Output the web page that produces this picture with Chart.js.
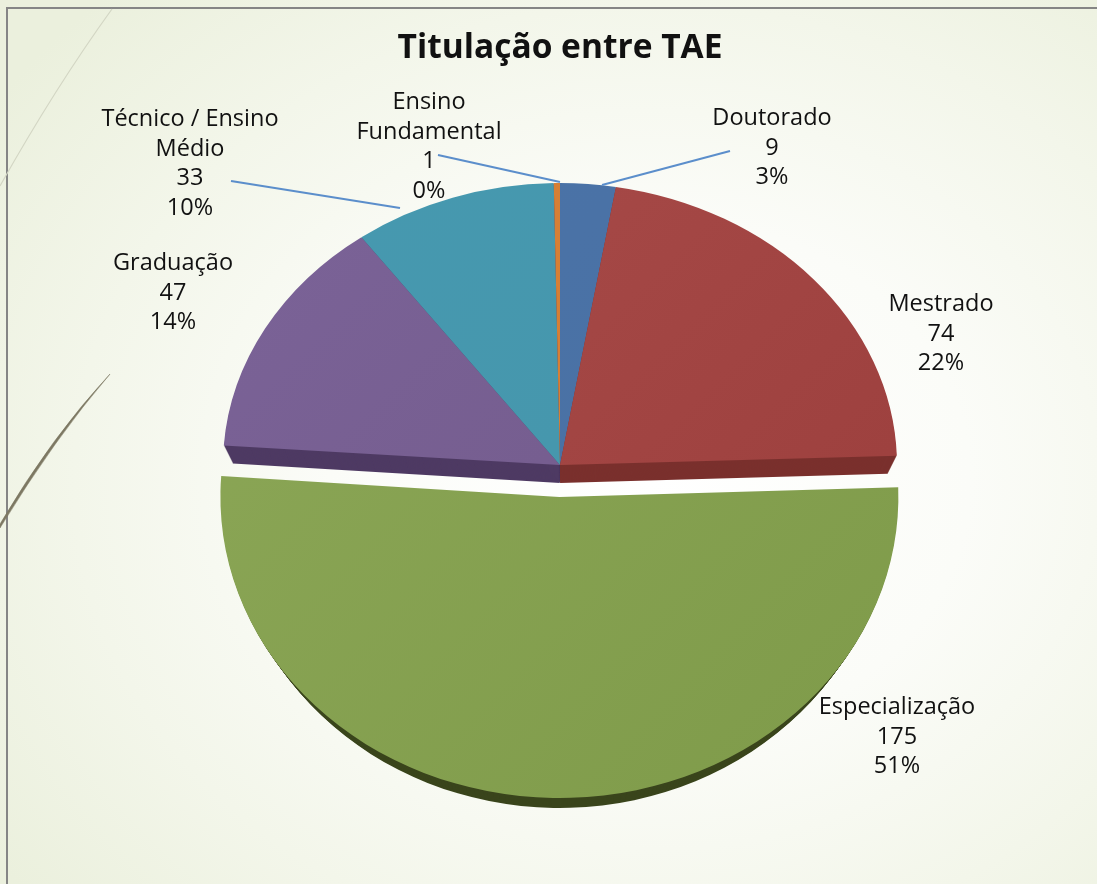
<!DOCTYPE html>
<html>
<head>
<meta charset="utf-8">
<title>Titulação entre TAE</title>
<script src="https://cdn.jsdelivr.net/npm/chart.js@4/dist/chart.umd.js"></script>
<style>
  html, body { margin: 0; padding: 0; width: 1097px; height: 884px; overflow: hidden; }
  body { position: relative; background: radial-gradient(ellipse 800px 660px at 650px 480px, #ffffff 0%, #fbfcf8 40%, #f3f6ea 72%, #ebf0dd 100%); }
  #frame { position: absolute; left: 6px; top: 7px; width: 1091px; height: 877px; border-left: 2px solid #858585; border-top: 2px solid #858585; box-sizing: border-box; }
  #decor { position: absolute; left: 0; top: 0; }
  #myChart { position: absolute; left: 0; top: 0; }
</style>
</head>
<body>
<div id="frame"></div>
<svg id="decor" width="1097" height="884">
  <path d="M112 9 Q 55 88 0 186" fill="none" stroke="#d3d6c4" stroke-width="1.2"/>
  <path d="M110 374 Q 52 436 0 524 L 0 528 Q 55 438 110 374 Z" fill="#7d7863" stroke="#7d7863" stroke-width="0.5"/>
</svg>
<canvas id="myChart" width="1097" height="884"></canvas>
<script>
const categories = ["Doutorado", "Mestrado", "Especialização", "Graduação", "Técnico / Ensino Médio", "Ensino Fundamental"];
const values = [9, 74, 175, 47, 33, 1];
const percents = ["3%", "22%", "51%", "14%", "10%", "0%"];
const labelLines = [["Doutorado"], ["Mestrado"], ["Especialização"], ["Graduação"], ["Técnico / Ensino", "Médio"], ["Ensino", "Fundamental"]];
const sliceColors = [["#4a73a8", "#4a70a2"], ["#a94c4a", "#9b3e3c"], ["#8ca757", "#7f9b4a"], ["#7b6398", "#715988"], ["#4699b0", "#4695aa"], ["#d67f35", "#d67f35"]];
// the thin slices at the back show the wall of their neighbour at the centre
const sideColors = ["#7a302d", "#7a302d", "#3a451c", "#4e3a63", "#4e3a63", "#4e3a63"];

// where the labels sit on the slide (centre x, first line y)
const labelAnchors = [[772, 125], [941, 311], [897, 714], [173, 270], [190, 126], [429, 109]];
const leaders = [
  [602, 185, 730, 151],
  [231, 181, 400, 208],
  [438, 155, 560, 182],
];

const pie = { x: 560, y: 465, rx: 337, ry: 282, depth: 18, shrink: 9, shiftX: 0, shiftY: 0 };
const exploded = { x: 560, y: 465, rx: 339, ry: 301, depth: 10, shrink: 9, shiftX: -0.6, shiftY: 32 };
const explodedIndex = 2;

function place(ctx, arc, i, down, inset) {
  const s = i === explodedIndex ? exploded : pie;
  ctx.translate(s.x + s.shiftX, s.y + s.shiftY + down);
  ctx.scale((s.rx - inset) / arc.outerRadius, s.ry / arc.outerRadius);
  ctx.translate(-arc.x, -arc.y);
}

const tiltedPie = {
  id: "tiltedPie",
  beforeDatasetsDraw(chart) {
    const ctx = chart.ctx;
    const arcs = chart.getDatasetMeta(0).data;
    // side walls first, the top faces go over them
    arcs.forEach((arc, i) => {
      const s = i === explodedIndex ? exploded : pie;
      const top = arc.options;
      arc.options = Object.assign({}, top, { backgroundColor: sideColors[i] });
      for (let k = s.depth; k > 0; k--) {
        ctx.save();
        place(ctx, arc, i, k, s.shrink * k / s.depth);
        arc.draw(ctx);
        ctx.restore();
      }
      arc.options = top;
    });
    arcs.forEach((arc, i) => {
      ctx.save();
      place(ctx, arc, i, 0, 0);
      arc.draw(ctx);
      ctx.restore();
    });
    return false;
  },
  afterDraw(chart) {
    const ctx = chart.ctx;
    ctx.save();
    ctx.strokeStyle = "#5b8ecb";
    ctx.lineWidth = 2;
    leaders.forEach(l => {
      ctx.beginPath();
      ctx.moveTo(l[0], l[1]);
      ctx.lineTo(l[2], l[3]);
      ctx.stroke();
    });
    ctx.fillStyle = "#111";
    ctx.font = '23.5px "Open Sans"';
    ctx.textAlign = "center";
    ctx.textBaseline = "alphabetic";
    categories.forEach((c, i) => {
      const lines = labelLines[i].concat([String(values[i]), percents[i]]);
      lines.forEach((t, n) => ctx.fillText(t, labelAnchors[i][0], labelAnchors[i][1] + n * 29.5));
    });
    ctx.restore();
  },
};

const canvas = document.getElementById("myChart");
const g = canvas.getContext("2d");
const fills = sliceColors.map(pair => {
  const grad = g.createLinearGradient(150, 100, 970, 800);
  grad.addColorStop(0, pair[0]);
  grad.addColorStop(1, pair[1]);
  return grad;
});

new Chart(canvas, {
  type: "pie",
  data: {
    labels: categories,
    datasets: [{
      data: values,
      backgroundColor: fills,
      borderWidth: 0,
    }],
  },
  options: {
    responsive: false,
    animation: false,
    events: [],
    layout: { padding: { left: 23 } },
    plugins: {
      legend: { display: false },
      tooltip: { enabled: false },
      title: {
        display: true,
        text: "Titulação entre TAE",
        color: "#111",
        font: { family: '"Open Sans"', size: 33.5, weight: "bold" },
        padding: { top: 28, bottom: 10 },
      },
    },
  },
  plugins: [tiltedPie],
});
</script>
</body>
</html>
